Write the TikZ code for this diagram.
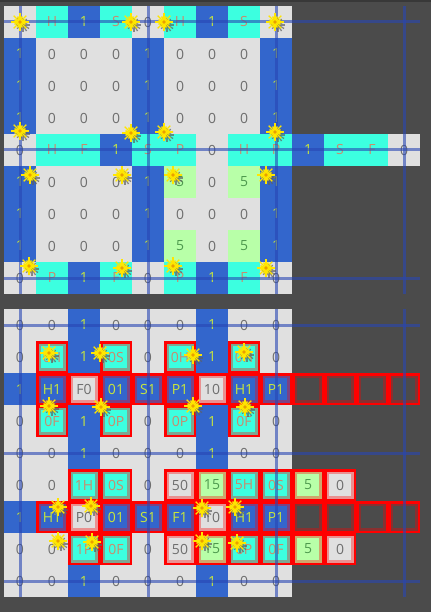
\documentclass[tikz,border=0pt]{standalone}
\usepackage{fontspec}
\setmainfont{Open Sans}
\definecolor{bgdark}{HTML}{4B4B4B}
\definecolor{bgedge}{HTML}{383838}
\definecolor{cellgray}{HTML}{E0E0E0}
\definecolor{cellblue}{HTML}{3366CC}
\definecolor{cellcyan}{HTML}{3CFFE0}
\definecolor{cellgreen}{HTML}{B8FFA8}
\definecolor{txtgray}{HTML}{6E6E6E}
\definecolor{txtlime}{HTML}{C8E63C}
\definecolor{txtbrown}{HTML}{C88C6E}
\definecolor{txtgreen}{HTML}{4E9A4E}
\definecolor{gridblue}{HTML}{2846B4}
\definecolor{burstyellow}{HTML}{FFE600}
\definecolor{burstmid}{HTML}{E8A000}
\definecolor{burstgray}{HTML}{606060}
\tikzset{
  cell/.style={minimum size=32pt, inner sep=0pt, outer sep=0pt, font=\fontsize{14}{14}\selectfont},
  zerocell/.style={cell, fill=cellgray, text=txtgray},
  onecell/.style={cell, fill=cellblue, text=txtlime},
  markcell/.style={cell, fill=cellcyan, text=txtbrown},
  fivecell/.style={cell, fill=cellgreen, text=txtgreen},
  nocell/.style={cell},
  plain/.style={},
  redbox/.style={minimum size=29.5pt, draw=red, line width=2.5pt,
    path picture={\draw[red, opacity=.35, line width=7pt] (path picture bounding box.south west) rectangle (path picture bounding box.north east);}},
  gridline/.style={draw=gridblue, opacity=.6, line width=3pt},
  burstray/.style={draw=burstyellow, line width=1.4pt},
  burstshade/.style={draw=burstgray, opacity=.7, line width=1.3pt},
  burst/.pic={
    \foreach \a in {0,30,...,330} \draw[burstshade] (3,3) -- ++(\a:7);
    \foreach \a in {0,45,...,315} \draw[burstray] (0,0) -- (\a:9);
    \foreach \a in {22.5,67.5,...,337.5} \draw[burstray] (0,0) -- (\a:6);
    \fill[burstmid] (0,0) circle (1.8);
  }
}
\begin{document}
\begin{tikzpicture}[x=1pt,y=-1pt]
  \fill[bgdark] (0,0) rectangle (431,612);
  \fill[bgedge] (0,0) rectangle (431,2);
  % top grid
  \foreach \s/\t [count=\c from 0] in {zerocell/0,markcell/H,onecell/1,markcell/S,zerocell/0,markcell/H,onecell/1,markcell/S,zerocell/0}
    \node[\s] (t0c\c) at (20+32*\c,22) {\t};
  \foreach \r in {1,2,3,6}
    \foreach \s/\t [count=\c from 0] in {onecell/1,zerocell/0,zerocell/0,zerocell/0,onecell/1,zerocell/0,zerocell/0,zerocell/0,onecell/1}
      \node[\s] (t\r c\c) at (20+32*\c,22+32*\r) {\t};
  \foreach \s/\t [count=\c from 0] in {zerocell/0,markcell/H,markcell/F,onecell/1,markcell/S,markcell/P,zerocell/0,markcell/H,markcell/P,onecell/1,markcell/S,markcell/F,zerocell/0}
    \node[\s] (t4c\c) at (20+32*\c,150) {\t};
  \foreach \r in {5,7}
    \foreach \s/\t [count=\c from 0] in {onecell/1,zerocell/0,zerocell/0,zerocell/0,onecell/1,fivecell/5,zerocell/0,fivecell/5,onecell/1}
      \node[\s] (t\r c\c) at (20+32*\c,22+32*\r) {\t};
  \foreach \s/\t [count=\c from 0] in {zerocell/0,markcell/P,onecell/1,markcell/F,zerocell/0,markcell/P,onecell/1,markcell/F,zerocell/0}
    \node[\s] (t8c\c) at (20+32*\c,278) {\t};
  \foreach \y in {22,150,278}
    \draw[gridline] (4,\y) -- (420,\y);
  \foreach \x in {20,148,276,404}
    \draw[gridline] (\x,6) -- (\x,294);
  % bottom grid
  \foreach \r in {0,4,8}
    \foreach \s/\t [count=\c from 0] in {zerocell/0,zerocell/0,onecell/1,zerocell/0,zerocell/0,zerocell/0,onecell/1,zerocell/0,zerocell/0}
      \node[\s] (b\r c\c) at (20+32*\c,325+32*\r) {\t};
  \foreach \s/\t/\b [count=\c from 0] in {zerocell/0/plain,markcell/0H/redbox,onecell/1/plain,markcell/0S/redbox,zerocell/0/plain,markcell/0H/redbox,onecell/1/plain,markcell/0H/redbox,zerocell/0/plain}
    \node[\s,\b] (b1c\c) at (20+32*\c,357) {\t};
  \foreach \s/\t/\b [count=\c from 0] in {zerocell/0/plain,markcell/0F/redbox,onecell/1/plain,markcell/0P/redbox,zerocell/0/plain,markcell/0P/redbox,onecell/1/plain,markcell/0F/redbox,zerocell/0/plain}
    \node[\s,\b] (b3c\c) at (20+32*\c,421) {\t};
  \foreach \s/\t [count=\c from 0] in {onecell/H1,zerocell/F0,onecell/01,onecell/S1,onecell/P1,zerocell/10,onecell/H1,onecell/P1,nocell/,nocell/,nocell/,nocell/}
    \node[\s,redbox] (b2c\c) at (52+32*\c,389) {\t};
  \node[onecell] (b2c0) at (20,389) {1};
  \foreach \s/\t [count=\c from 0] in {onecell/H1,zerocell/P0,onecell/01,onecell/S1,onecell/F1,zerocell/10,onecell/H1,onecell/P1,nocell/,nocell/,nocell/,nocell/}
    \node[\s,redbox] (b6c\c) at (52+32*\c,517) {\t};
  \node[onecell] (b6c0) at (20,517) {1};
  \foreach \r/\u/\v in {5/1H/5H,7/1P/0P}
    \foreach \s/\t/\b [count=\c from 0] in {zerocell/0/plain,zerocell/0/plain,markcell/\u/redbox,markcell/0\ifnum\r=5 S\else F\fi/redbox,zerocell/0/plain,zerocell/50/redbox,fivecell/15/redbox,markcell/\v/redbox,markcell/0\ifnum\r=5 S\else F\fi/redbox,fivecell/5/redbox,zerocell/0/redbox}
      \node[\s,\b] (b\r c\c) at (20+32*\c,325+32*\r) {\t};
  \foreach \y in {325,453,581}
    \draw[gridline] (4,\y) -- (420,\y);
  \foreach \x in {20,148,276,404}
    \draw[gridline] (\x,309) -- (\x,597);
  % stars
  \foreach \p in {(20,22),(131,22),(164,22),(275,22),(20,131),(131,133),(164,132),(275,132),
                  (30,175),(122,175),(173,175),(266,175),(29,266),(122,268),(173,266),(266,268),
                  (49,353),(100,353),(193,355),(244,352),(49,406),(101,407),(193,406),(245,407),
                  (58,507),(91,506),(202,508),(235,507),(58,541),(92,542),(202,541),(237,543)}
    \pic at \p {burst};
\end{tikzpicture}
\end{document}
